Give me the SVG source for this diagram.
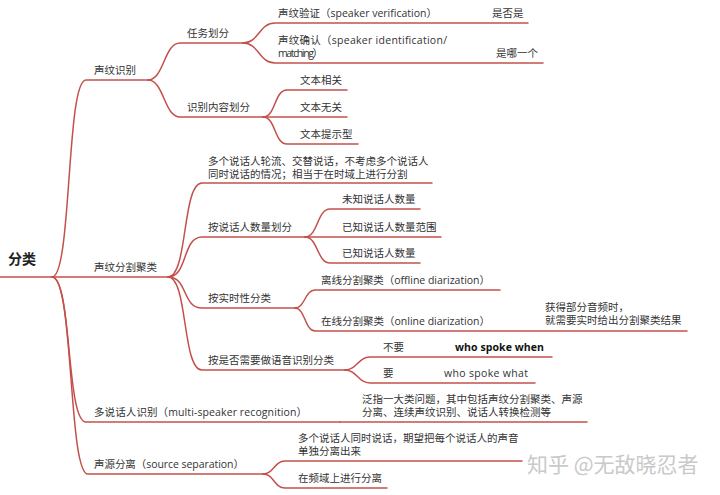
<svg xmlns="http://www.w3.org/2000/svg" width="720" height="495" viewBox="0 0 720 495">
<style>
.t{font-family:"Open Sans","Noto Sans CJK SC",sans-serif;font-size:10.5px;fill:#333}
.root{font-family:"Noto Sans CJK SC",sans-serif;font-size:14px;font-weight:bold;fill:#222}
.b{font-weight:bold;fill:#111}
.c path{fill:none;stroke:#c4504b;stroke-width:1.5;stroke-linecap:round}
.wm{font-family:"Noto Sans CJK SC",sans-serif;font-size:21px;fill:#c9c9c9}
</style>
<rect width="720" height="495" fill="#fff"/>
<g class="c" id="connectors">
<path d="M0,277 L52,277"/>
<path d="M52,277 C72,277 66,80 86,80 L148,80"/>
<path d="M52,277 L168,277"/>
<path d="M52,277 C72,277 66,422 86,422 L340,422"/>
<path d="M52,277 C74,277 68,474 88,474 L263,474"/>
<path d="M148,80 C164,80 164,43 180,43 L243,43"/>
<path d="M148,80 C164,80 164,117 180,117 L263,117"/>
<path d="M243,43 C259,43 259,23 275,23 L528,23"/>
<path d="M243,43 C259,43 259,63 275,63 L543,63"/>
<path d="M263,117 C276,117 274,90 287,90 L347,90"/>
<path d="M263,117 L347,117"/>
<path d="M263,117 C276,117 274,144 287,144 L358,144"/>
<path d="M168,277 C188,277 182,183 202,183 L432,183"/>
<path d="M168,277 C188,277 182,237 202,237 L305,237"/>
<path d="M168,277 C188,277 182,308 202,308 L295,308"/>
<path d="M168,277 C188,277 182,370 202,370 L345,370"/>
<path d="M305,237 C318,237 317,209 330,209 L420,209"/>
<path d="M305,237 L441,237"/>
<path d="M305,237 C318,237 317,263 330,263 L420,263"/>
<path d="M295,308 C305,308 305,290 315,290 L500,290"/>
<path d="M295,308 C305,308 305,331 315,331 L687,331"/>
<path d="M345,370 C357,370 358,357 370,357 L552,357"/>
<path d="M345,370 C357,370 358,383 370,383 L535,383"/>
<path d="M340,422 L587,422"/>
<path d="M263,474 C274,474 274,461 285,461 L522,461"/>
<path d="M263,474 C274,474 274,488 285,488 L387,488"/>
</g>
<g id="root"><text class="root" x="8" y="264">分类</text></g>
<g id="n-shengwenshibie"><text class="t" x="94" y="74">声纹识别</text></g>
<g id="n-renwu"><text class="t" x="187" y="37">任务划分</text></g>
<g id="n-verification"><text class="t" x="278" y="17" textLength="159">声纹验证（speaker verification）</text><text class="t" x="492" y="17">是否是</text></g>
<g id="n-identification"><text class="t" x="278" y="44" textLength="169">声纹确认（speaker identification/</text><text class="t" x="278" y="57" textLength="45">matching）</text><text class="t" x="496" y="57">是哪一个</text></g>
<g id="n-neirong"><text class="t" x="187" y="111">识别内容划分</text></g>
<g id="n-xiangguan"><text class="t" x="300" y="84">文本相关</text></g>
<g id="n-wuguan"><text class="t" x="300" y="111">文本无关</text></g>
<g id="n-tishi"><text class="t" x="300" y="138">文本提示型</text></g>
<g id="n-fenge"><text class="t" x="94" y="271">声纹分割聚类</text></g>
<g id="n-lunliu"><text class="t" x="208" y="165">多个说话人轮流、交替说话，不考虑多个说话人</text><text class="t" x="208" y="178">同时说话的情况；相当于在时域上进行分割</text></g>
<g id="n-shuliang"><text class="t" x="208" y="231">按说话人数量划分</text></g>
<g id="n-weizhi"><text class="t" x="342" y="203">未知说话人数量</text></g>
<g id="n-fanwei"><text class="t" x="342" y="231">已知说话人数量范围</text></g>
<g id="n-yizhi"><text class="t" x="342" y="257">已知说话人数量</text></g>
<g id="n-shishi"><text class="t" x="208" y="302">按实时性分类</text></g>
<g id="n-offline"><text class="t" x="321" y="284" textLength="169">离线分割聚类（offline diarization）</text></g>
<g id="n-online"><text class="t" x="321" y="325" textLength="169">在线分割聚类（online diarization）</text><text class="t" x="545" y="311">获得部分音频时，</text><text class="t" x="545" y="324">就需要实时给出分割聚类结果</text></g>
<g id="n-yuyin"><text class="t" x="208" y="364">按是否需要做语音识别分类</text></g>
<g id="n-buyao"><text class="t" x="383" y="351">不要</text><text class="t b" x="455" y="351" textLength="89">who spoke when</text></g>
<g id="n-yao"><text class="t" x="383" y="377">要</text><text class="t" x="444" y="377" textLength="84">who spoke what</text></g>
<g id="n-multi"><text class="t" x="94" y="416" textLength="213">多说话人识别（multi-speaker recognition）</text></g>
<g id="n-fanzhi"><text class="t" x="362" y="403">泛指一大类问题，其中包括声纹分割聚类、声源</text><text class="t" x="362" y="416">分离、连续声纹识别、说话人转换检测等</text></g>
<g id="n-source"><text class="t" x="94" y="468" textLength="150">声源分离（source separation）</text></g>
<g id="n-tongshi"><text class="t" x="298" y="442">多个说话人同时说话，期望把每个说话人的声音</text><text class="t" x="298" y="455">单独分离出来</text></g>
<g id="n-pinyu"><text class="t" x="298" y="482">在频域上进行分离</text></g>
<text class="wm" x="527" y="472">知乎 @无敌晓忍者</text>
</svg>
